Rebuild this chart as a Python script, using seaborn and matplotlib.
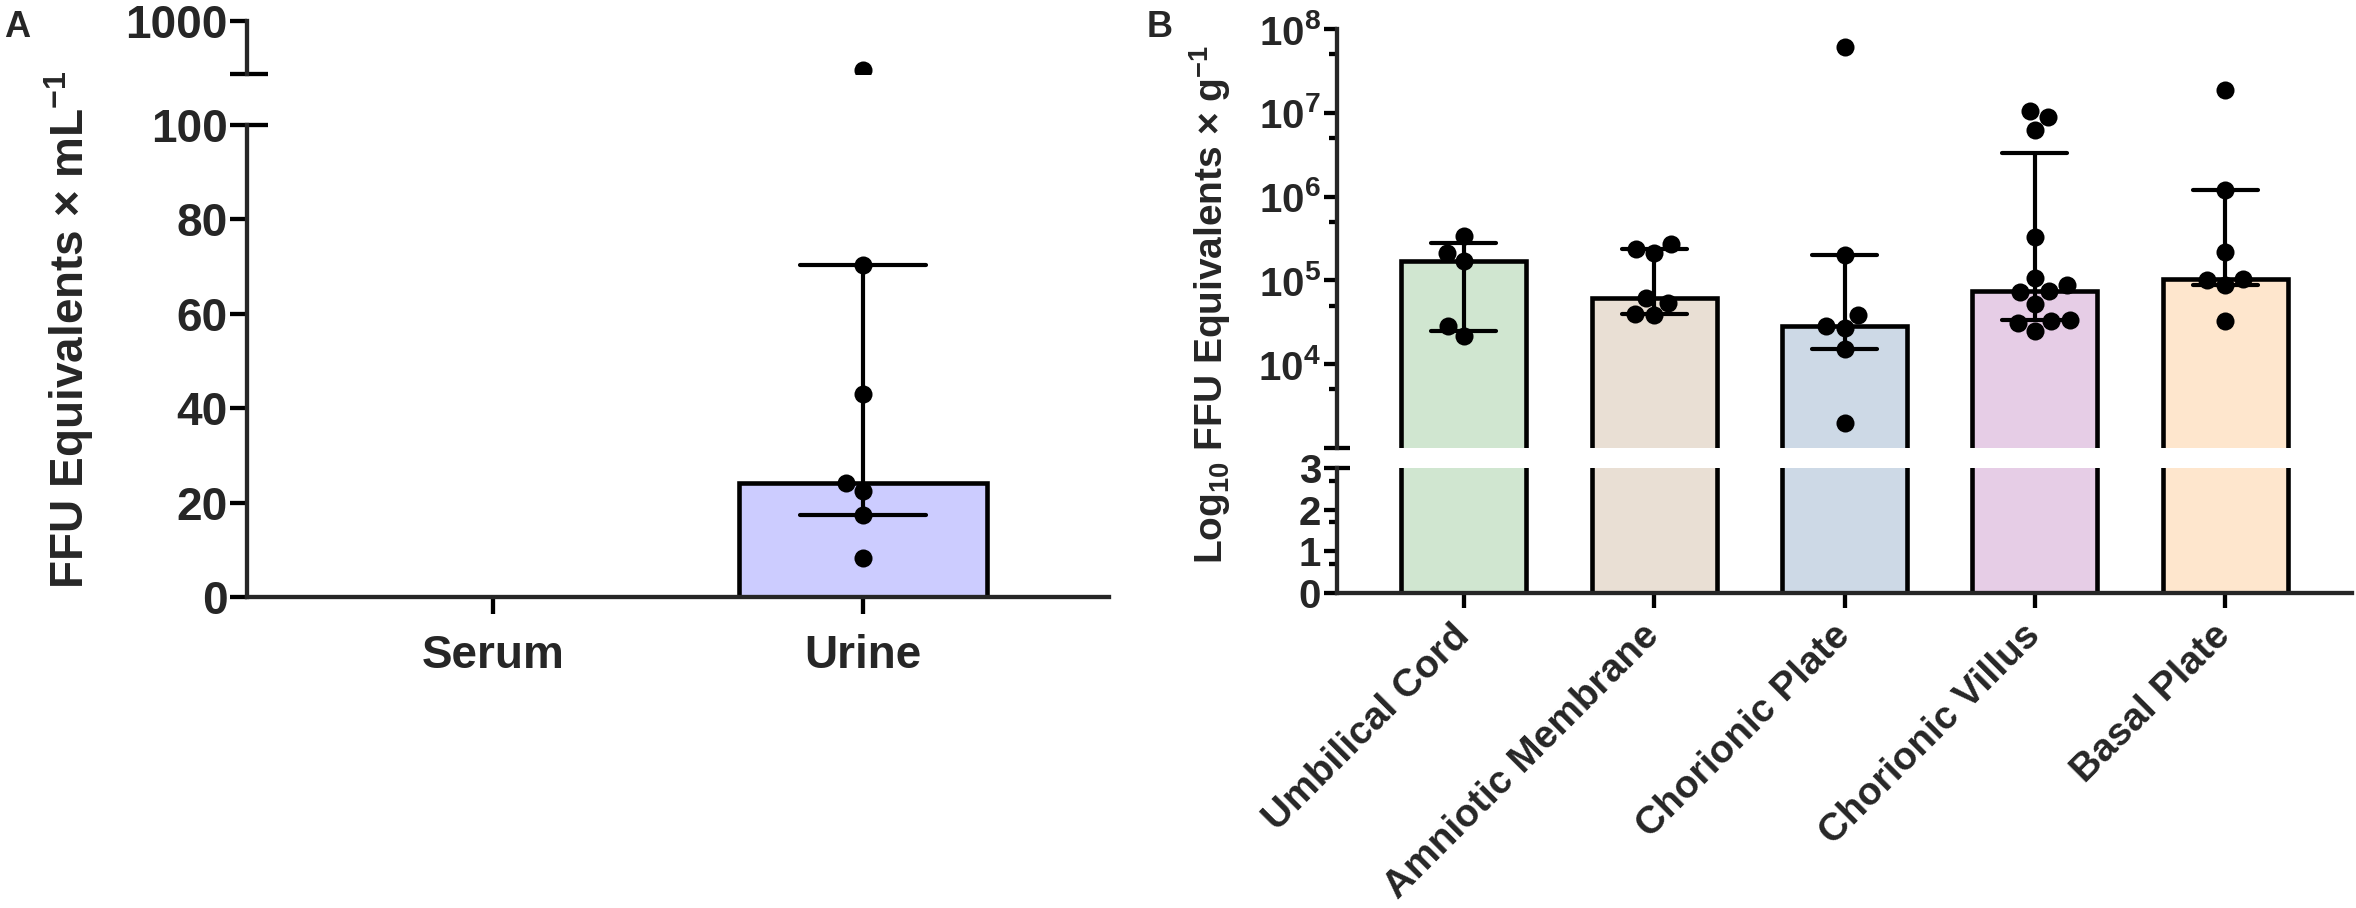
import numpy as np
import pandas as pd
import matplotlib
matplotlib.use("Agg")
import matplotlib.pyplot as plt
import seaborn as sns

# ---- panel A: FFU equivalents per mL (serum had nothing detectable)
fluid_names = ['Serum', 'Urine']
urine_vals = [8.3, 17.3, 22.4, 24.2, 43.1, 70.3, 167.0]
fluid_color = '#ccccff'
a_low_ticks = [0, 20, 40, 60, 80, 100]
a_high_ticks = [100, 1000]
a_high_labels = ['', '1000']

# ---- panel B: FFU equivalents per g of tissue
tissue_names = ['Umbilical Cord', 'Amniotic Membrane', 'Chorionic Plate',
                'Chorionic Villus', 'Basal Plate']
umbilical_vals = [2.16e4, 2.85e4, 1.7e5, 2.14e5, 3.4e5]
amniotic_vals = [3.9e4, 4.0e4, 5.4e4, 6.1e4, 2.14e5, 2.39e5, 2.69e5]
chor_plate_vals = [2.0e3, 1.5e4, 2.72e4, 2.85e4, 3.9e4, 2.0e5, 6.1e7]
chor_villus_vals = [2.5e4, 3.1e4, 3.27e4, 3.4e4, 5.3e4, 7.3e4, 7.4e4, 8.8e4,
                    1.06e5, 3.3e5, 6.3e6, 9.0e6, 1.05e7]
basal_vals = [3.27e4, 8.7e4, 1.0e5, 1.03e5, 2.2e5, 1.21e6, 1.86e7]
tissue_colors = ['#d0e6d0', '#e9dfd4', '#cdd9e6', '#e6cde6', '#fee6cd']
b_decades = [3, 4, 5, 6, 7, 8]
b_low_ticks = [0, 1, 2, 3]

dfa = pd.DataFrame({'fluid': 'Urine', 'ffu': urine_vals})
groups = [umbilical_vals, amniotic_vals, chor_plate_vals, chor_villus_vals, basal_vals]
dfb = pd.DataFrame({'tissue': np.repeat(tissue_names, [len(g) for g in groups]),
                    'ffu': np.concatenate(groups)})
dfb['log_ffu'] = np.log10(dfb['ffu'])
tissue_pal = dict(zip(tissue_names, tissue_colors))


# Prism style: bar = median, error = interquartile range
def prism_iqr(v):
    return tuple(np.percentile(v, [25, 75], method='weibull'))


def log_median(v):
    return np.log10(np.median(10 ** np.asarray(v)))


def log_iqr(v):
    return tuple(np.log10(np.percentile(10 ** np.asarray(v), [25, 75], method='weibull')))


sns.set_style('ticks')
plt.rcParams['font.family'] = ['Liberation Sans', 'DejaVu Sans']
plt.rcParams['font.weight'] = 'bold'
plt.rcParams['mathtext.fontset'] = 'custom'
plt.rcParams['mathtext.rm'] = 'Liberation Sans:bold'
plt.rcParams['mathtext.bf'] = 'Liberation Sans:bold'
plt.rcParams['mathtext.it'] = 'Liberation Sans:bold:italic'
plt.rcParams['mathtext.default'] = 'bf'

W, H = 2356, 908
fig = plt.figure(figsize=(W / 100, H / 100), dpi=100)


def box(left, top, right, bottom):
    return [left / W, 1 - bottom / H, (right - left) / W, (bottom - top) / H]


axA = fig.add_axes(box(247, 125, 1109, 597))
axA_top = fig.add_axes(box(247, 21, 1109, 74))
axB = fig.add_axes(box(1337, 468, 2352, 593))
axB_top = fig.add_axes(box(1337, 29, 2352, 448))

LW = 3.1
bar_kw = dict(edgecolor='black', linewidth=3.3, saturation=1, capsize=0.34,
              err_kws={'color': 'black', 'linewidth': 3.0})

# ---------------- panel A
sns.barplot(data=dfa, x='fluid', y='ffu', order=fluid_names, color=fluid_color,
            estimator='median', errorbar=prism_iqr, width=0.67, ax=axA, **bar_kw)
sns.swarmplot(data=dfa[dfa['ffu'] <= 100], x='fluid', y='ffu', order=fluid_names,
              color='black', size=13, ax=axA)
sns.swarmplot(data=dfa[dfa['ffu'] > 100], x='fluid', y='ffu', order=fluid_names,
              color='black', size=13, ax=axA_top)

axA.set_ylim(0, 100)
axA.set_yticks(a_low_ticks)
axA_top.set_ylim(100, 1000)
axA_top.set_yticks(a_high_ticks)
axA_top.set_yticklabels(a_high_labels)
for ax in (axA, axA_top):
    ax.set_xlim(-0.665, 1.665)
    ax.set_xlabel('')
    ax.set_ylabel('')
sns.despine(ax=axA)
sns.despine(ax=axA_top, bottom=True)
axA_top.set_xticks([])
axA.set_xticklabels(fluid_names)

# ---------------- panel B
for ax in (axB, axB_top):
    sns.barplot(data=dfb, x='tissue', y='log_ffu', order=tissue_names, hue='tissue',
                palette=tissue_pal, legend=False, estimator=log_median,
                errorbar=log_iqr, width=0.656, ax=ax, **bar_kw)
sns.swarmplot(data=dfb, x='tissue', y='log_ffu', order=tissue_names,
              color='black', size=13, ax=axB_top)

axB.set_ylim(0, 3)
axB.set_yticks(b_low_ticks)
axB.set_yticks([t + np.log10(5) for t in b_low_ticks[:-1]], minor=True)
axB_top.set_ylim(3, 8)
axB_top.set_yticks(b_decades)
axB_top.set_yticklabels([''] + [r'$\mathbf{10^{%d}}$' % d for d in b_decades[1:]])
axB_top.set_yticks([d + np.log10(5) for d in b_decades[:-1]], minor=True)
for ax in (axB, axB_top):
    ax.set_xlim(-0.666, 4.666)
    ax.set_xlabel('')
    ax.set_ylabel('')
sns.despine(ax=axB)
sns.despine(ax=axB_top, bottom=True)
axB_top.set_xticks([])
axB.set_xticklabels(tissue_names, rotation=45, ha='right', va='center',
                    rotation_mode='anchor')

# ---------------- common styling
for ax in (axA, axA_top, axB, axB_top):
    for s in ('left', 'bottom'):
        ax.spines[s].set_linewidth(LW)
    ax.tick_params(axis='both', which='major', width=LW, color='black')
    ax.tick_params(axis='y', which='minor', width=LW, length=6, color='black')

axA.tick_params(axis='both', which='major', length=12)
axA_top.tick_params(axis='y', which='major', length=12)
axB.tick_params(axis='y', which='major', length=9.5)
axB_top.tick_params(axis='y', which='major', length=9.5)
axB.tick_params(axis='x', which='major', length=11)

axA.tick_params(axis='y', labelsize=33, pad=2)
axA_top.tick_params(axis='y', labelsize=33, pad=2)
axA.tick_params(axis='x', labelsize=33, pad=15)
axB.tick_params(axis='y', labelsize=29, pad=2)
axB_top.tick_params(axis='y', labelsize=29, pad=2)
axB.tick_params(axis='x', labelsize=28, pad=16)

# break marks where the axis segments meet
brk = dict(color='black', lw=LW, clip_on=False, solid_capstyle='butt')
axA.plot([0, 21 / 862], [1, 1], transform=axA.transAxes, **brk)
axA_top.plot([0, 21 / 862], [0, 0], transform=axA_top.transAxes, **brk)
axB.plot([0, 13 / 1015], [1, 1], transform=axB.transAxes, **brk)
axB_top.plot([0, 13 / 1015], [0, 0], transform=axB_top.transAxes, **brk)

fig.text(69 / W, 1 - 330 / H, 'FFU Equivalents × mL$^{-1}$', rotation=90,
         ha='center', va='center', fontsize=33, fontweight='bold')
fig.text(1210 / W, 1 - 305 / H, 'Log$_{10}$ FFU Equivalents × g$^{-1}$', rotation=90,
         ha='center', va='center', fontsize=28, fontweight='bold')
fig.text(4 / W, 1 - 10 / H, 'A', ha='left', va='top', fontsize=26, fontweight='bold')
fig.text(1147 / W, 1 - 10 / H, 'B', ha='left', va='top', fontsize=26, fontweight='bold')

fig.savefig('out.png', dpi=100)
